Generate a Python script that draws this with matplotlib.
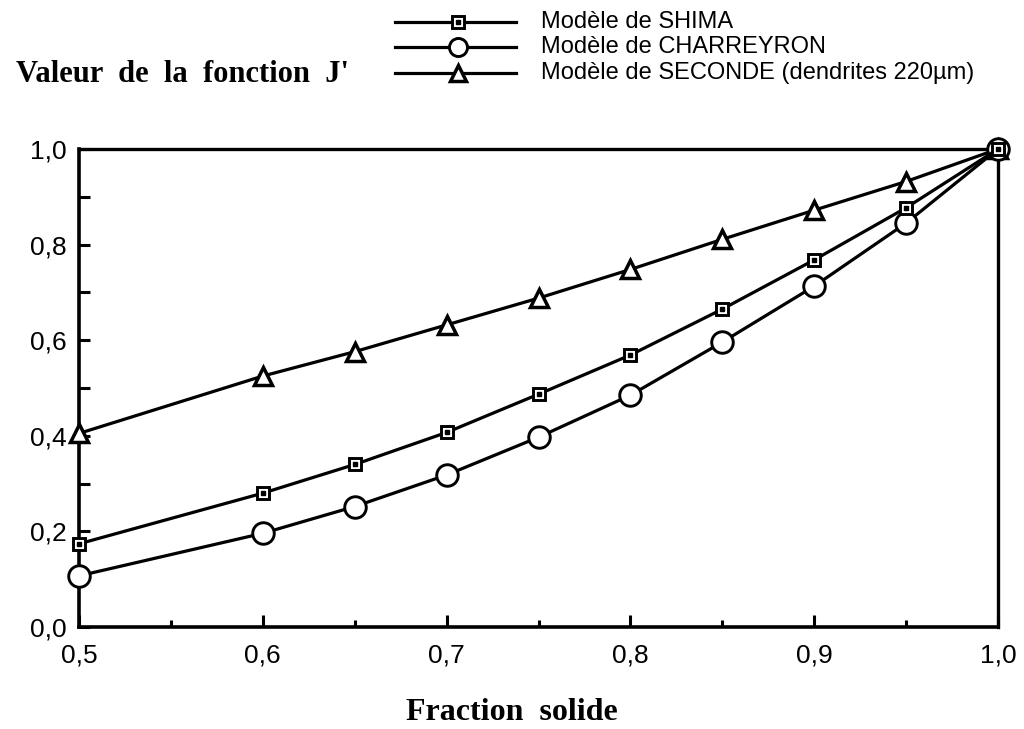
import matplotlib
matplotlib.use("Agg")
import matplotlib.pyplot as plt
from matplotlib.ticker import FuncFormatter, MultipleLocator
from matplotlib.lines import Line2D

# ---- data ----
fraction_solide = [0.5, 0.6, 0.65, 0.7, 0.75, 0.8, 0.85, 0.9, 0.95, 1.0]
shima = [0.174, 0.280, 0.340, 0.407, 0.487, 0.569, 0.665, 0.768, 0.877, 1.0]
charreyron = [0.107, 0.196, 0.252, 0.318, 0.397, 0.485, 0.596, 0.713, 0.845, 1.0]
seconde = [0.405, 0.525, 0.576, 0.632, 0.688, 0.748, 0.811, 0.872, 0.932, 1.0]

legend_labels = ["Modèle de SHIMA", "Modèle de CHARREYRON",
                 "Modèle de SECONDE (dendrites 220µm)"]
x_label = "Fraction  solide"
y_label = "Valeur  de  la  fonction  J'"

W, H = 1024, 729
fig = plt.figure(figsize=(W / 100, H / 100), dpi=100)
ax = fig.add_axes([79 / W, 1 - 627 / H, (998 - 79) / W, (627 - 149) / H])

lw = 2.3
ax.plot(fraction_solide, seconde, color="black", lw=lw, marker="^", ms=13,
        mfc="white", mec="black", mew=2.5, zorder=3, clip_on=False)
ax.plot(fraction_solide, charreyron, color="black", lw=lw, marker="o", ms=15.5,
        mfc="white", mec="black", mew=2.1, zorder=3, clip_on=False)
ax.plot(fraction_solide, shima, color="black", lw=lw, marker="s", ms=8.5,
        mfc="white", mec="black", mew=2.1, zorder=4, clip_on=False)
ax.plot(fraction_solide, shima, ls="none", marker="s", ms=2.3,
        mfc="black", mec="black", zorder=5, clip_on=False)

ax.set_xlim(0.5, 1.0)
ax.set_ylim(0.0, 1.0)
ax.xaxis.set_major_locator(MultipleLocator(0.1))
ax.xaxis.set_minor_locator(MultipleLocator(0.05))
ax.yaxis.set_major_locator(MultipleLocator(0.2))
ax.yaxis.set_minor_locator(MultipleLocator(0.1))
fmt = FuncFormatter(lambda v, p: f"{v:.1f}".replace(".", ","))
ax.xaxis.set_major_formatter(fmt)
ax.yaxis.set_major_formatter(fmt)

ax.tick_params(axis="both", which="both", direction="in", top=False, right=False,
               color="black", width=2.2)
ax.tick_params(axis="x", which="major", length=9, pad=12)
ax.tick_params(axis="x", which="minor", length=5)
ax.tick_params(axis="y", which="major", length=8, pad=9)
ax.tick_params(axis="y", which="minor", length=8)
for lab in ax.get_xticklabels() + ax.get_yticklabels():
    lab.set_fontfamily("Liberation Sans")
    lab.set_fontsize(19)

for s in ["left", "bottom"]:
    ax.spines[s].set_linewidth(2.6)
for s in ["top", "right"]:
    ax.spines[s].set_linewidth(2.4)

# x label
fig.text(512 / W, 1 - 712 / H, x_label, ha="center", va="center",
         fontfamily="Liberation Serif", fontweight="bold", fontsize=23)
# y label (top-left)
fig.text(16 / W, 1 - 74 / H, y_label, ha="left", va="center",
         fontfamily="Liberation Serif", fontweight="bold", fontsize=22)

# legend drawn manually
handles = [
    dict(marker="s", ms=8.5, mew=2.1),
    dict(marker="o", ms=13, mew=2.1),
    dict(marker="^", ms=12, mew=2.5),
]
rows_y = [22, 47, 73]
for h, lab, yy in zip(handles, legend_labels, rows_y):
    yf = 1 - yy / H
    fig.add_artist(Line2D([395 / W, 516 / W], [yf, yf], color="black", lw=lw,
                          transform=fig.transFigure))
    fig.add_artist(Line2D([458 / W], [yf], color="black", lw=0,
                          marker=h["marker"], ms=h["ms"], mew=h["mew"],
                          mfc="white", mec="black", transform=fig.transFigure))
    if h["marker"] == "s":
        fig.add_artist(Line2D([458 / W], [yf], lw=0, marker="s", ms=2.3,
                              mfc="black", mec="black", transform=fig.transFigure))
    fig.text(541 / W, yf, lab, ha="left", va="center",
             fontfamily="Liberation Sans", fontsize=17)

fig.savefig("out.png", dpi=100)
